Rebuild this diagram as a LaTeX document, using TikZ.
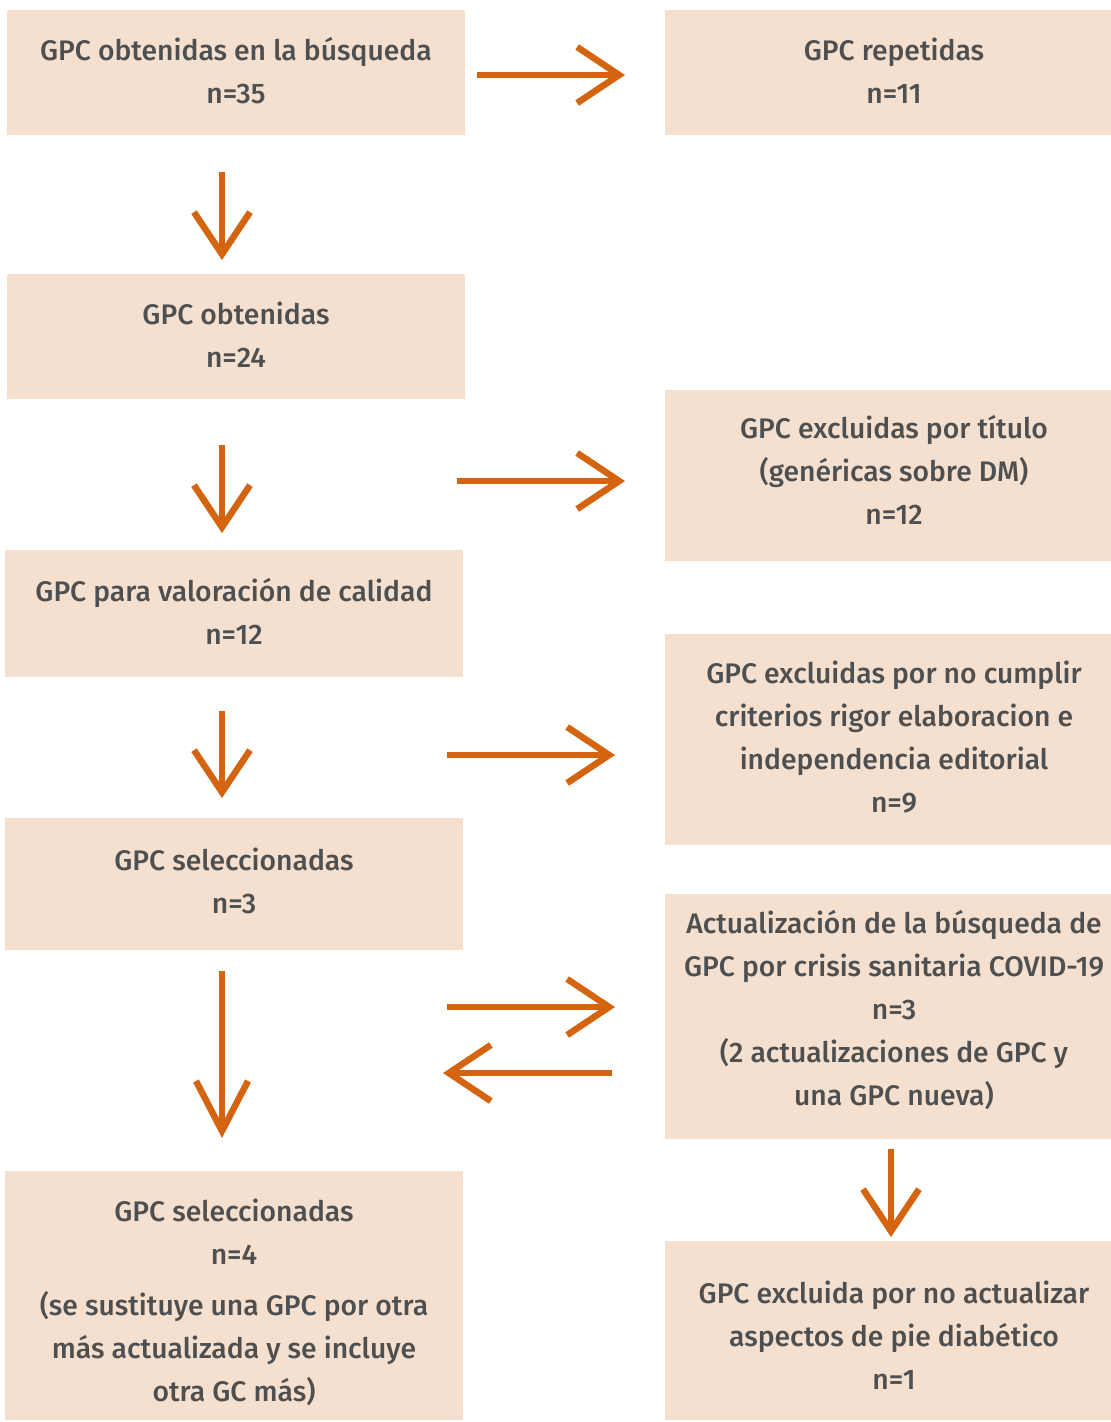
\documentclass[tikz,border=0pt]{standalone}
\usepackage{fontspec}
\setmainfont{Fira Sans}[UprightFont={* Medium}]
\usetikzlibrary{arrows.meta,calc}
\definecolor{boxfill}{HTML}{F5E0CF}
\definecolor{arrowc}{HTML}{D4640F}
\definecolor{textc}{HTML}{4D4F51}
\begin{document}
\begin{tikzpicture}[x=1pt,y=1pt,
  box/.style={fill=boxfill, draw=none, inner sep=0pt},
  txt/.style={inner sep=0pt, align=center, text=textc,
    font=\fontsize{28.3}{43}\selectfont},
  arr/.style={draw=arrowc, line width=6.5pt, -{Straight Barb[length=42pt,width=56pt]}},
  arrlong/.style={draw=arrowc, line width=6.5pt, -{Straight Barb[length=50pt,width=52pt]}}]
\useasboundingbox (0,0) rectangle (1111,-1422);
% boxes
\node[box, minimum width=458, minimum height=125] (b1) at (236,-72.5) {};
\node[box, minimum width=446, minimum height=125] (b2) at (888,-72.5) {};
\node[box, minimum width=458, minimum height=125] (b3) at (236,-336.5) {};
\node[box, minimum width=446, minimum height=171] (b4) at (888,-475.5) {};
\node[box, minimum width=458, minimum height=127] (b5) at (234,-613.5) {};
\node[box, minimum width=446, minimum height=211] (b6) at (888,-739.5) {};
\node[box, minimum width=458, minimum height=132] (b7) at (234,-884) {};
\node[box, minimum width=446, minimum height=245] (b8) at (888,-1016.5) {};
\node[box, minimum width=458, minimum height=249] (b9) at (234,-1295.5) {};
\node[box, minimum width=446, minimum height=179] (b10) at (888,-1330.5) {};
% texts
\node[txt] (t1) at ($(b1.center)+(0,1.5)$) {GPC obtenidas en la búsqueda\\n=35};
\node[txt] (t2) at ($(b2.center)+(6,1.5)$) {GPC repetidas\\n=11};
\node[txt] (t3) at ($(b3.center)+(0,1.5)$) {GPC obtenidas\\n=24};
\node[txt] (t4) at ($(b4.center)+(6,6)$) {GPC excluidas por título\\(genéricas sobre DM)\\n=12};
\node[txt] (t5) at ($(b5.center)+(0,2)$) {GPC para valoración de calidad\\n=12};
\node[txt] (t6) at ($(b6.center)+(6,2)$) {GPC excluidas por no cumplir\\criterios rigor elaboracion e\\independencia editorial\\n=9};
\node[txt] (t7) at ($(b7.center)+(0,3.5)$) {GPC seleccionadas\\n=3};
\node[txt] (t8) at ($(b8.center)+(6,6)$) {Actualización de la búsqueda de\\GPC por crisis sanitaria COVID-19\\n=3\\(2 actualizaciones de GPC y\\una GPC nueva)};
\node[txt] (t9) at ($(b9.center)+(0,-7)$) {GPC seleccionadas\\n=4\\[8pt](se sustituye una GPC por otra\\más actualizada y se incluye\\otra GC más)};
\node[txt] (t10) at ($(b10.center)+(6,-4.5)$) {GPC excluida por no actualizar\\aspectos de pie diabético\\n=1};
% arrow end points
\coordinate (a1s) at (477,-75);   \coordinate (a1e) at (625,-75);
\coordinate (a2s) at (222,-172);  \coordinate (a2e) at (222,-260);
\coordinate (a3s) at (222,-445);  \coordinate (a3e) at (222,-533);
\coordinate (a4s) at (457,-481);  \coordinate (a4e) at (625,-481);
\coordinate (a5s) at (222,-711);  \coordinate (a5e) at (222,-798);
\coordinate (a6s) at (447,-755);  \coordinate (a6e) at (615,-755);
\coordinate (a7s) at (222,-971);  \coordinate (a7e) at (222,-1138);
\coordinate (a8s) at (447,-1007); \coordinate (a8e) at (615,-1007);
\coordinate (a9s) at (612,-1073); \coordinate (a9e) at (443,-1073);
\coordinate (a10s) at (891,-1149); \coordinate (a10e) at (891,-1237);
\draw[arr] (a1s) -- (a1e);
\draw[arr] (a2s) -- (a2e);
\draw[arr] (a3s) -- (a3e);
\draw[arr] (a4s) -- (a4e);
\draw[arr] (a5s) -- (a5e);
\draw[arr] (a6s) -- (a6e);
\draw[arrlong] (a7s) -- (a7e);
\draw[arr] (a8s) -- (a8e);
\draw[arr] (a9s) -- (a9e);
\draw[arr] (a10s) -- (a10e);
\end{tikzpicture}
\end{document}
